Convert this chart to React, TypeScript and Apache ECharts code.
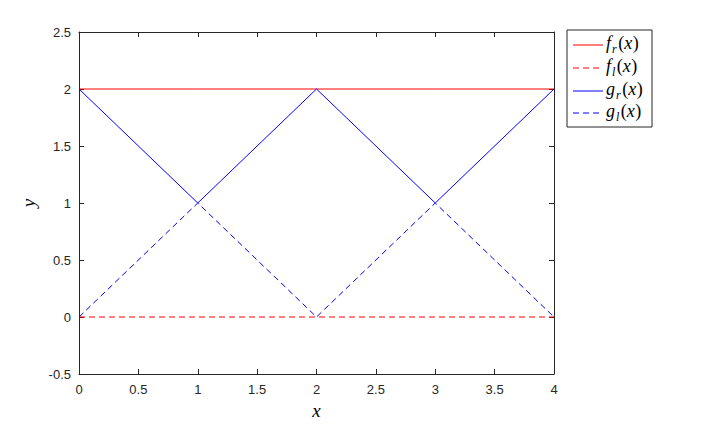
import React, { useEffect, useRef } from "react";
import * as echarts from "echarts";

const xs = [0, 1, 2, 3, 4];
const frValues = [2, 2, 2, 2, 2];
const flValues = [0, 0, 0, 0, 0];
const grValues = [2, 1, 2, 1, 2];
const glValues = [0, 1, 0, 1, 0];
const legendBases = ["f", "f", "g", "g"];
const legendSubs = ["r", "l", "r", "l"];
const legendColors = ["#ff0000", "#ff0000", "#0000ff", "#0000ff"];
const legendDashed = [false, true, false, true];

const pair = (v: number[]) => xs.map((x, i) => [x, v[i]]);

export default function App() {
  const ref = useRef<HTMLDivElement>(null);
  useEffect(() => {
    const chart = echarts.init(ref.current!, undefined, { renderer: "svg" });
    const axisColor = "#262626";
    const serif = "Liberation Serif";
    const labelFont = { fontFamily: "Liberation Sans", fontSize: 13, color: axisColor };
    const baseAxis = {
      type: "value" as const,
      axisLine: { show: true, onZero: false, lineStyle: { color: axisColor, width: 1 } },
      axisTick: { show: true, inside: true, length: 5, lineStyle: { color: axisColor } },
      splitLine: { show: false },
    };
    const canvas = document.createElement("canvas");
    const ctx = canvas.getContext("2d")!;
    const measure = (t: string, size: number, italic: boolean) => {
      ctx.font = `${italic ? "italic " : ""}${size}px ${serif}`;
      return ctx.measureText(t).width;
    };
    const legendX = 567, legendY = 30, legendW = 85, legendH = 97;
    const rowY = [45, 68, 91, 113];
    const legendItems: any[] = [
      { type: "rect", shape: { x: legendX, y: legendY, width: legendW, height: legendH }, style: { fill: "#fff", stroke: axisColor, lineWidth: 1 } },
    ];
    const bigSize = 18, subSize = 12;
    const txt = (x: number, y: number, text: string, size: number, italic: boolean) => ({
      type: "text", x, y,
      style: { text, fontFamily: serif, fontSize: size, fontStyle: italic ? "italic" : "normal", fill: "#000", verticalAlign: "bottom" },
    });
    legendBases.forEach((base, i) => {
      const sub = legendSubs[i];
      legendItems.push({
        type: "line",
        shape: { x1: 573, y1: rowY[i], x2: 603, y2: rowY[i] },
        style: { stroke: legendColors[i], lineWidth: 1, lineDash: legendDashed[i] ? [6, 4] : null },
      });
      let x = 606;
      legendItems.push(txt(x, rowY[i] + 7, base, bigSize, true));
      x += measure(base, bigSize, true) + 1;
      legendItems.push(txt(x, rowY[i] + 10, sub, subSize, true));
      x += measure(sub, subSize, true) + 1.5;
      legendItems.push(txt(x, rowY[i] + 7, "(", bigSize, false));
      x += measure("(", bigSize, false);
      legendItems.push(txt(x, rowY[i] + 7, "x", bigSize, true));
      x += measure("x", bigSize, true) + 0.5;
      legendItems.push(txt(x, rowY[i] + 7, ")", bigSize, false));
    });
    chart.setOption({
      animation: false,
      backgroundColor: "#fff",
      grid: { left: 79, top: 32, width: 475, height: 346, containLabel: false },
      xAxis: [
        {
          ...baseAxis,
          min: 0,
          max: 4,
          interval: 0.5,
          position: "bottom",
          axisLabel: { ...labelFont, margin: 9 },
          name: "x",
          nameLocation: "middle",
          nameGap: 27,
          nameTextStyle: { fontFamily: serif, fontStyle: "italic", fontSize: 19, color: "#000" },
        },
        { ...baseAxis, min: 0, max: 4, interval: 0.5, position: "top", axisLabel: { show: false } },
      ],
      yAxis: [
        {
          ...baseAxis,
          min: -0.5,
          max: 2.5,
          interval: 0.5,
          position: "left",
          axisLabel: { ...labelFont, margin: 8 },
          name: "y",
          nameLocation: "middle",
          nameGap: 40,
          nameTextStyle: { fontFamily: serif, fontStyle: "italic", fontSize: 19, color: "#000" },
        },
        { ...baseAxis, min: -0.5, max: 2.5, interval: 0.5, position: "right", axisLabel: { show: false } },
      ],
      series: [
        { type: "line", name: "fr", data: pair(frValues), symbol: "none", color: "#ff0000", lineStyle: { color: "#ff0000", width: 1 } },
        { type: "line", name: "fl", data: pair(flValues), symbol: "none", color: "#ff0000", lineStyle: { color: "#ff0000", width: 1, type: [6, 4] } },
        { type: "line", name: "gr", data: pair(grValues), symbol: "none", color: "#0000ff", lineStyle: { color: "#0000ff", width: 1 } },
        { type: "line", name: "gl", data: pair(glValues), symbol: "none", color: "#0000ff", lineStyle: { color: "#0000ff", width: 1, type: [6, 4] } },
      ],
      graphic: legendItems,
    });
    return () => chart.dispose();
  }, []);
  return <div ref={ref} style={{ width: 708, height: 425, position: "absolute", left: 0, top: 0 }} />;
}
